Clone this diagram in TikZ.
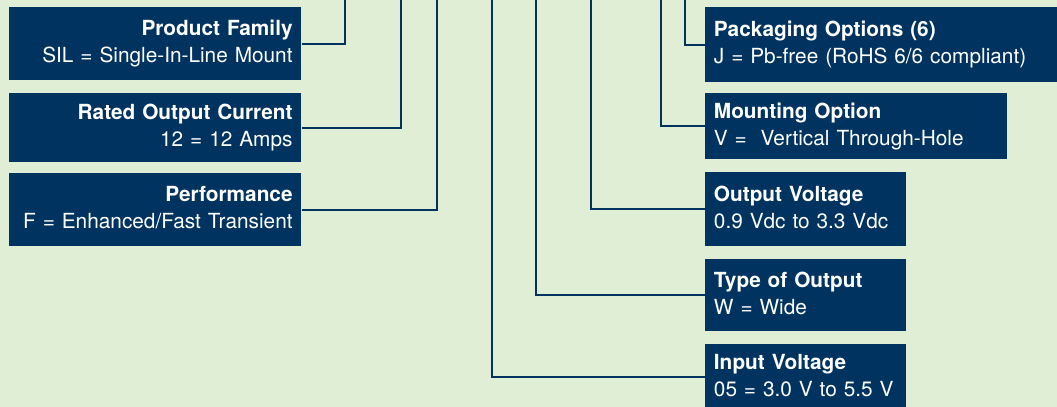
\documentclass[tikz,border=0pt]{standalone}
\usepackage{fontspec}
\setmainfont{TeX Gyre Heros}
\definecolor{navy}{RGB}{0,51,96}
\definecolor{paleg}{RGB}{225,238,214}
\def\px{0.75pt}
\def\fieldtext#1#2{\strut\textbf{#1}\\\strut #2}

\begin{document}
\begin{tikzpicture}[x=\px, y=-\px]
		\tikzstyle{field}=[fill=navy, text=white, inner xsep=6.5pt, inner ysep=0pt, anchor=north west, font=\fontsize{15.6}{20.25}\selectfont]
		\tikzstyle{left field}=[field, align=right, text width=206pt]
		\tikzstyle{right field}=[field, align=left]
		\tikzstyle{link}=[draw=navy, line width=1.6pt]

		\useasboundingbox (0,0) rectangle (1057,407);
		\clip (0,0) rectangle (1057,407);
		\fill[paleg] (0,0) rectangle (1057,407);

			% Draw the fields on the left
		\node[left field, minimum height=73*\px] (fam) at (9,7) {\fieldtext{Product Family}{SIL = Single-In-Line Mount}};
		\node[left field, minimum height=69*\px] (cur) at (9,93) {\fieldtext{Rated Output Current}{12 = 12 Amps}};
		\node[left field, minimum height=73*\px] (perf) at (9,173) {\fieldtext{Performance}{F = Enhanced/Fast Transient}};

			% Draw the fields on the right
		\node[right field, text width=257pt, minimum height=75*\px] (pack) at (705,7) {\fieldtext{Packaging Options (6)}{J = Pb-free (RoHS 6/6 compliant)}};
		\node[right field, text width=213.5pt, minimum height=66*\px] (mount) at (705,93) {\fieldtext{Mounting Option}{V =\ \ Vertical Through-Hole}};
		\node[right field, text width=137.75pt, minimum height=74*\px] (outv) at (705,172) {\fieldtext{Output Voltage}{0.9 Vdc to 3.3 Vdc}};
		\node[right field, text width=137.75pt, minimum height=72*\px] (type) at (705,259) {\fieldtext{Type of Output}{W = Wide}};
		\node[right field, text width=137.75pt, minimum height=66*\px] (inp) at (705,344) {\fieldtext{Input Voltage}{05 = 3.0 V to 5.5 V}};

			% Connect every field with the top edge
		\foreach \name / \x in {fam/345, cur/401, perf/437}
		{
		\coordinate (\name-top) at (\x,-5);
		\path[link] (\name.east) -| (\name-top);
		}
		\foreach \name / \x in {inp/492, type/536, outv/591, mount/661, pack/685}
		{
		\coordinate (\name-top) at (\x,-5);
		\path[link] (\name.west) -| (\name-top);
		}
		\end{tikzpicture}
\end{document}
